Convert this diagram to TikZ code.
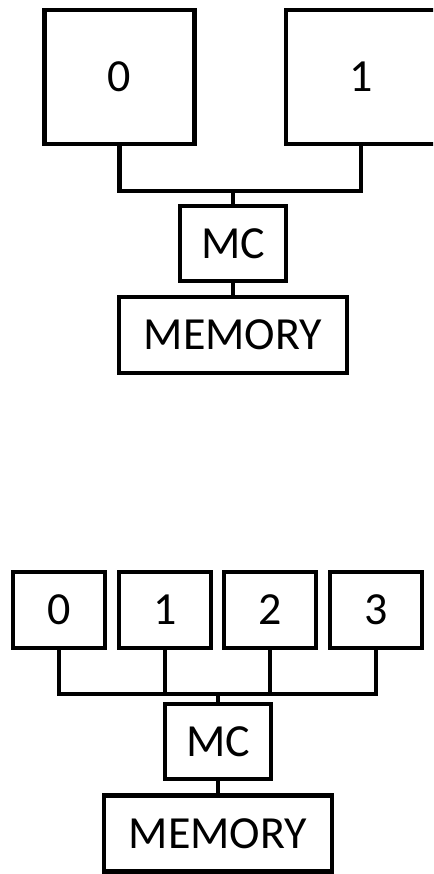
\documentclass[tikz,border=0pt]{standalone}
\usepackage{fontspec}
\setmainfont{Carlito}
\usepackage{tikz}
\usetikzlibrary{positioning}

\begin{document}
\begin{tikzpicture}[
  x=1pt, y=-1pt,
  core/.style={draw, line width=4.2pt, inner sep=0pt, font=\fontsize{46}{52}\selectfont},
  bigcore/.style={core, minimum width=150pt, minimum height=134pt},
  smallcore/.style={core, minimum width=92pt, minimum height=76pt},
  mcbox/.style={core, minimum width=106pt, minimum height=75pt},
  membox/.style={core, minimum width=228pt, minimum height=76pt},
  wire/.style={line width=4.2pt}
]
  \clip (0,0) rectangle (433,874);
  \fill[white] (0,0) rectangle (433,874);

  % two cores
  \node[bigcore] (a0) at (119.5,77) {0};
  \node[bigcore] (a1) at (361,77) {1};
  \node[mcbox] (amc) at (233,243.5) {MC};
  \node[membox] (amem) at (233,335) {MEMORY};
  \coordinate (abus) at (233,191);
  \draw[wire] (a0.south) |- (abus) -| (a1.south);
  \draw[wire] (abus) -- (amc.north);
  \draw[wire] (amc.south) -- (amem.north);

  % four cores
  \node[mcbox] (bmc) at (218,741.5) {MC};
  \node[membox] (bmem) at (218,833.5) {MEMORY};
  \coordinate (bbus) at (218,694);
  \foreach \i/\xx in {0/59, 1/165, 2/270, 3/376} {
    \node[smallcore] (b\i) at (\xx,610) {\i};
    \draw[wire] (b\i.south) |- (bbus);
  }
  \draw[wire] (bbus) -- (bmc.north);
  \draw[wire] (bmc.south) -- (bmem.north);
\end{tikzpicture}
\end{document}
